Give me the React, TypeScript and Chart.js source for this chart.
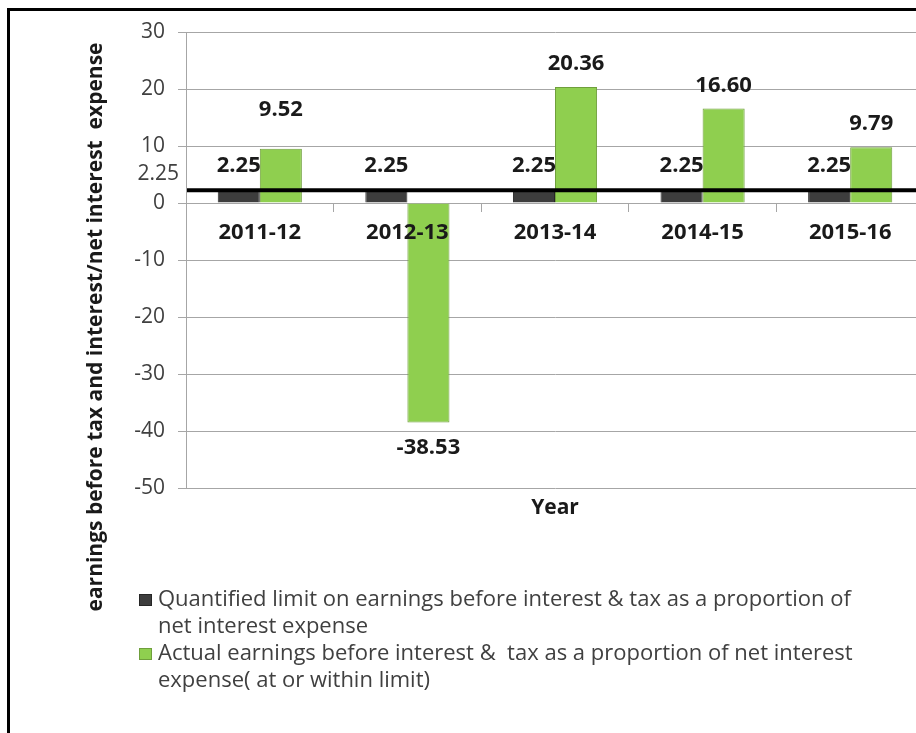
import React, { useEffect, useRef } from 'react';
import { Chart, registerables } from 'chart.js';

Chart.register(...registerables);

// ---- data ----
const categories = ['2011-12', '2012-13', '2013-14', '2014-15', '2015-16'];
const limitValues = [2.25, 2.25, 2.25, 2.25, 2.25];
const actualValues = [9.52, -38.53, 20.36, 16.6, 9.79];
const limitLevel = 2.25;
const yMin = -50;
const yMax = 30;
const yStep = 10;
const seriesLines = [
  ['Quantified limit on earnings before interest & tax as a proportion of', 'net interest expense'],
  ['Actual earnings before interest &  tax as a proportion of net interest', 'expense( at or within limit)'],
];
const yTitle = 'earnings before tax and interest/net interest  expense';
const xTitle = 'Year';

// ---- styles ----
const FONT = '"Open Sans", "Noto Sans", sans-serif';
const seriesColors = ['#3d3d3d', '#8fcf4f'];
const seriesBorders = ['#262626', '#6f9f3c'];
const labelLift = [
  [24, 24, 24, 24, 24],
  [39, 25, 23.5, 22.5, 23],
];

const overlayPlugin = {
  id: 'overlay',
  afterDatasetsDraw(chart: any) {
    const { ctx, chartArea, scales } = chart;
    const ly = scales.y.getPixelForValue(limitLevel);
    ctx.save();
    // limit line
    ctx.strokeStyle = '#000';
    ctx.lineWidth = 4;
    ctx.beginPath();
    ctx.moveTo(chartArea.left + 1, ly);
    ctx.lineTo(chartArea.right, ly);
    ctx.stroke();
    // limit axis label
    ctx.font = `21px ${FONT}`;
    ctx.fillStyle = '#404040';
    ctx.textAlign = 'right';
    ctx.textBaseline = 'middle';
    ctx.fillText(limitLevel.toFixed(2), chartArea.left - 7, ly - 16);
    // data labels
    ctx.font = `bold 22px ${FONT}`;
    ctx.fillStyle = '#1a1a1a';
    ctx.textAlign = 'center';
    chart.data.datasets.forEach((ds: any, di: number) => {
      const meta = chart.getDatasetMeta(di);
      meta.data.forEach((el: any, i: number) => {
        const v = ds.data[i] as number;
        const lift = labelLift[di][i];
        ctx.fillText(v.toFixed(2), el.x, v >= 0 ? el.y - lift : el.y + lift);
      });
    });
    ctx.restore();
  },
  afterDraw(chart: any) {
    const { ctx, chartArea } = chart;
    ctx.save();
    // y title
    ctx.font = `bold 21px ${FONT}`;
    ctx.fillStyle = '#1a1a1a';
    ctx.textAlign = 'center';
    ctx.textBaseline = 'middle';
    ctx.translate(96, chartArea.bottom - 161);
    ctx.rotate(-Math.PI / 2);
    ctx.fillText(yTitle, 0, 0);
    ctx.restore();

    ctx.save();
    // x title
    ctx.font = `bold 21px ${FONT}`;
    ctx.fillStyle = '#1a1a1a';
    ctx.textAlign = 'center';
    ctx.textBaseline = 'middle';
    ctx.fillText(xTitle, (chartArea.left + chartArea.right) / 2, chartArea.bottom + 20);

    // legend
    ctx.font = `22px ${FONT}`;
    ctx.textAlign = 'left';
    const lineH = 27;
    let y = chartArea.bottom + 112;
    chart.data.datasets.forEach((ds: any, di: number) => {
      const lines = seriesLines[di];
      ctx.fillStyle = seriesColors[di];
      ctx.fillRect(139, y - 6, 13, 12);
      ctx.strokeStyle = seriesBorders[di];
      ctx.lineWidth = 1;
      ctx.strokeRect(139.5, y - 5.5, 12, 11);
      ctx.fillStyle = '#404040';
      lines.forEach((t, li) => {
        ctx.fillText(t, 158, y + li * lineH);
      });
      y += lines.length * lineH;
    });
    ctx.restore();
  },
};

export default function App() {
  const ref = useRef<HTMLCanvasElement | null>(null);

  useEffect(() => {
    if (!ref.current) return;
    const chart = new Chart(ref.current, {
      type: 'bar',
      data: {
        labels: categories,
        datasets: [
          {
            label: seriesLines[0].join(' '),
            data: limitValues,
            backgroundColor: seriesColors[0],
            borderColor: seriesBorders[0],
            borderWidth: 1,
            barPercentage: 1,
            categoryPercentage: 0.57,
          },
          {
            label: seriesLines[1].join(' '),
            data: actualValues,
            backgroundColor: seriesColors[1],
            borderColor: seriesBorders[1],
            borderWidth: 1,
            barPercentage: 1,
            categoryPercentage: 0.57,
          },
        ],
      },
      options: {
        responsive: false,
        animation: false,
        devicePixelRatio: 1,
        layout: { padding: { left: 0, right: 16, top: 32, bottom: 245 } },
        plugins: {
          legend: { display: false },
          tooltip: { enabled: false },
          title: { display: false },
        },
        scales: {
          x: {
            type: 'category',
            position: { y: 0 } as any,
            grid: {
              drawOnChartArea: false,
              drawTicks: true,
              tickLength: 8,
              color: '#a6a6a6',
            },
            border: { display: true, color: '#a6a6a6', width: 1 },
            ticks: {
              z: 1,
              padding: 9,
              color: '#1a1a1a',
              font: { family: FONT, size: 22, weight: 'bold' },
              maxRotation: 0,
              autoSkip: false,
            },
          },
          y: {
            min: yMin,
            max: yMax,
            afterFit: (s: any) => {
              s.width = 186;
            },
            ticks: {
              stepSize: yStep,
              padding: 13,
              color: '#404040',
              font: { family: FONT, size: 21 },
            },
            grid: {
              color: '#a6a6a6',
              tickLength: 8,
              lineWidth: 1,
            },
            border: { display: true, color: '#a6a6a6', width: 1 },
          },
        },
      },
      plugins: [overlayPlugin],
    });
    return () => chart.destroy();
  }, []);

  return (
    <div
      style={{
        position: 'fixed',
        left: 0,
        top: 0,
        width: 916,
        height: 733,
        overflow: 'hidden',
        background: '#fff',
      }}
    >
      <canvas
        ref={ref}
        width={940}
        height={733}
        style={{ position: 'absolute', left: 0, top: 0, width: 940, height: 733 }}
      />
      <div
        style={{
          position: 'absolute',
          left: 7,
          top: 8,
          width: 1000,
          height: 1000,
          border: '3px solid #000',
          boxSizing: 'border-box',
          pointerEvents: 'none',
        }}
      />
    </div>
  );
}
